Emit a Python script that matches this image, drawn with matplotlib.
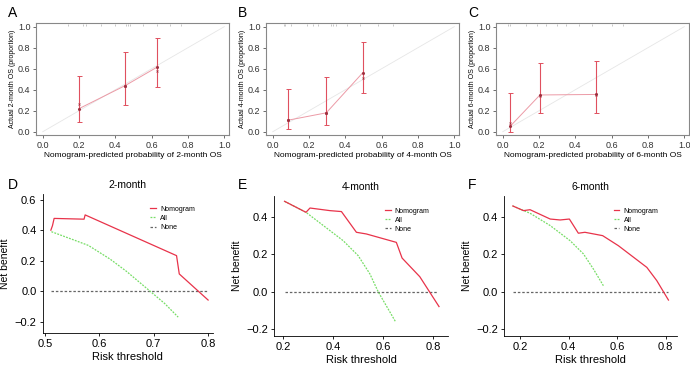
import numpy as np
import matplotlib.pyplot as plt

plt.rcParams['font.family'] = ['Liberation Sans', 'DejaVu Sans']

# calibration curves (A-C)
months = ["2", "4", "6"]
cal_pred = [[0.20, 0.455, 0.63], [0.085, 0.295, 0.495], [0.04, 0.205, 0.515]]
cal_obs = [[0.22, 0.44, 0.615], [0.11, 0.18, 0.56], [0.05, 0.35, 0.355]]
cal_corr = [[0.26, 0.44, 0.58], [0.11, 0.18, 0.51], [0.08, 0.34, 0.35]]
cal_lo = [[0.09, 0.25, 0.43], [0.03, 0.06, 0.37], [0.00, 0.18, 0.18]]
cal_hi = [[0.53, 0.76, 0.89], [0.41, 0.52, 0.85], [0.37, 0.65, 0.67]]
rug = [
    [0.14, 0.22, 0.24, 0.32, 0.40, 0.46, 0.47, 0.48, 0.55, 0.63, 0.70, 0.76],
    [0.06, 0.07, 0.10, 0.19, 0.22, 0.25, 0.32, 0.33, 0.35, 0.41, 0.48, 0.58, 0.66],
    [0.03, 0.04, 0.13, 0.19, 0.24, 0.30, 0.35, 0.42, 0.49, 0.60, 0.66],
]

# decision curves (D-F)
nom_x = [
    [0.511, 0.514, 0.517, 0.572, 0.574, 0.742, 0.747, 0.80],
    [0.205, 0.291, 0.307, 0.387, 0.433, 0.493, 0.533, 0.653, 0.676, 0.747, 0.824],
    [0.17, 0.214, 0.241, 0.324, 0.365, 0.403, 0.44, 0.467, 0.54, 0.605, 0.722, 0.763, 0.811],
]
nom_y = [
    [0.40, 0.43, 0.477, 0.472, 0.50, 0.233, 0.113, -0.058],
    [0.484, 0.425, 0.448, 0.434, 0.429, 0.318, 0.309, 0.264, 0.180, 0.080, -0.080],
    [0.459, 0.434, 0.439, 0.389, 0.384, 0.389, 0.313, 0.318, 0.30, 0.246, 0.13, 0.059, -0.045],
]
all_x = [
    [0.512, 0.55, 0.58, 0.62, 0.65, 0.69, 0.72, 0.745],
    [0.205, 0.291, 0.387, 0.44, 0.50, 0.547, 0.58, 0.651],
    [0.17, 0.241, 0.324, 0.406, 0.461, 0.502, 0.543],
]
all_y = [
    [0.39, 0.34, 0.30, 0.21, 0.13, 0.01, -0.08, -0.17],
    [0.484, 0.425, 0.327, 0.273, 0.193, 0.095, 0.0, -0.164],
    [0.459, 0.42, 0.354, 0.273, 0.202, 0.121, 0.032],
]
none_x = [[0.512, 0.80], [0.205, 0.82], [0.17, 0.81]]
dca_xticks = [[0.5, 0.6, 0.7, 0.8], [0.2, 0.4, 0.6, 0.8], [0.2, 0.4, 0.6, 0.8]]
dca_xlim = [(0.496, 0.809), (0.164, 0.86), (0.135, 0.845)]
dca_ylim = [(-0.274, 0.637), (-0.236, 0.514), (-0.236, 0.514)]
dca_yticks = [[-0.2, 0.0, 0.2, 0.4, 0.6], [-0.2, 0.0, 0.2, 0.4], [-0.2, 0.0, 0.2, 0.4]]

fig = plt.figure(figsize=(6.9, 3.68), dpi=100)
W, H = 690.0, 368.0
top_letters = "ABC"
bot_letters = "DEF"

for i in range(3):
    x0 = 36 + 230 * i
    ax = fig.add_axes([x0 / W, (H - 135) / H, 193 / W, 112 / H])
    ax.plot([0, 1], [0, 1], color='#e6e6e6', lw=0.6, zorder=1)
    ax.plot(cal_pred[i], cal_obs[i], color='#ec9aa6', lw=0.7, zorder=2)
    yerr = [np.array(cal_obs[i]) - np.array(cal_lo[i]), np.array(cal_hi[i]) - np.array(cal_obs[i])]
    ax.errorbar(cal_pred[i], cal_obs[i], yerr=yerr, fmt='none', ecolor='#e0505f',
                elinewidth=0.8, capsize=1.8, capthick=0.7, zorder=3)
    ax.plot(cal_pred[i], cal_obs[i], 'o', ms=1.2, color='#a03040', zorder=4)
    ax.plot(cal_pred[i], cal_corr[i], 'x', ms=1.4, mew=0.5, color='#a03040', zorder=4)
    ax.vlines(rug[i], 1.005, 1.03, color='#b0b0b0', lw=0.5)
    ax.set_xlim(-0.037, 1.026)
    ax.set_ylim(-0.031, 1.035)
    ax.set_xticks([0, 0.2, 0.4, 0.6, 0.8, 1.0])
    ax.set_yticks([0, 0.2, 0.4, 0.6, 0.8, 1.0])
    ax.set_xticklabels(['0.0', '0.2', '0.4', '0.6', '0.8', '1.0'])
    ax.set_yticklabels(['0.0', '0.2', '0.4', '0.6', '0.8', '1.0'])
    ax.tick_params(labelsize=6.5, length=2, width=0.5, pad=2, colors='#333333')
    for s in ax.spines.values():
        s.set_linewidth(0.8)
        s.set_color('#888888')
    ax.set_xlabel('Nomogram-predicted probability of %s-month OS' % months[i], fontsize=6, labelpad=2)
    ax.set_ylabel('Actual %s-month OS (proportion)' % months[i], fontsize=5, labelpad=1)
    fig.text((8 + 230 * i) / W, (H - 13) / H, top_letters[i], fontsize=10, va='center')

    # decision curves
    lefts = [42.7, 274.3, 504.3]
    rights = [213, 448, 676.7]
    tops = [194, 195.7, 195.7]
    bots = [333, 335.7, 335.7]
    bx = fig.add_axes([lefts[i] / W, (H - bots[i]) / H, (rights[i] - lefts[i]) / W,
                       (bots[i] - tops[i]) / H])
    bx.plot(none_x[i], [0, 0], color='#666666', lw=0.9, ls=(0, (2, 1.5)), label='None')
    bx.plot(all_x[i], all_y[i], color='#77dd66', lw=0.9, ls=(0, (1.5, 1)), label='All')
    bx.plot(nom_x[i], nom_y[i], color='#e8334a', lw=0.9, label='Nomogram')
    bx.set_xlim(dca_xlim[i])
    bx.set_ylim(dca_ylim[i])
    bx.set_xticks(dca_xticks[i])
    bx.set_yticks(dca_yticks[i])
    bx.spines['top'].set_visible(False)
    bx.spines['right'].set_visible(False)
    for s in ['left', 'bottom']:
        bx.spines[s].set_linewidth(0.6)
    bx.tick_params(labelsize=8, length=2.5, width=0.6, pad=2)
    bx.set_xlabel('Risk threshold', fontsize=8, labelpad=2)
    bx.set_ylabel('Net benefit', fontsize=7.5, labelpad=3)
    bx.set_title('%s-month' % months[i], fontsize=7.5, pad=4)
    h, l = bx.get_legend_handles_labels()
    bx.legend(h[::-1], l[::-1], loc='upper right', frameon=False, fontsize=5,
              handlelength=0.8, handletextpad=0.6, labelspacing=0.3,
              borderaxespad=0.5, bbox_to_anchor=(0.93, 0.96))
    fig.text((8 + 230 * i) / W, (H - 185) / H, bot_letters[i], fontsize=10, va='center')

fig.savefig('out.png', dpi=100)
